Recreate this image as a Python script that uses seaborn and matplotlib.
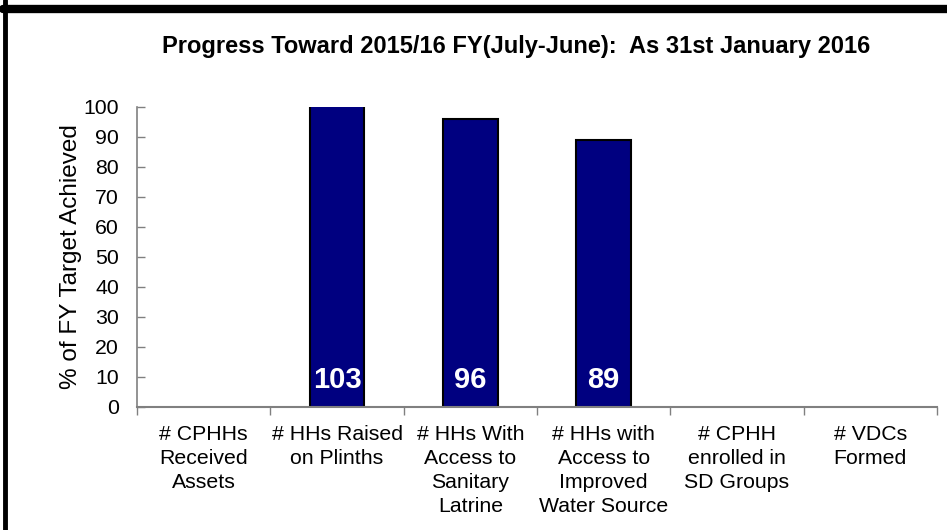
import matplotlib
matplotlib.use("Agg")
import matplotlib.pyplot as plt
from matplotlib.lines import Line2D
import pandas as pd
import seaborn as sns

categories = [
    "# CPHHs\nReceived\nAssets",
    "# HHs Raised\non Plinths",
    "# HHs With\nAccess to\nSanitary\nLatrine",
    "# HHs with\nAccess to\nImproved\nWater Source",
    "# CPHH\nenrolled in\nSD Groups",
    "# VDCs\nFormed",
]
pct_achieved = [0, 103, 96, 89, 0, 0]
yticks = list(range(0, 101, 10))

df = pd.DataFrame({"category": categories, "pct": pct_achieved})

sns.set_theme(style="white", rc={"text.color": "black", "axes.labelcolor": "black",
                                 "xtick.color": "black", "ytick.color": "black"})
plt.rcParams["font.family"] = ["Liberation Sans", "DejaVu Sans"]

W, H = 947, 530
fig = plt.figure(figsize=(W / 100, H / 100), dpi=100)
ax = fig.add_axes([137 / W, 1 - 407 / H, 800 / W, 300 / H])

sns.barplot(data=df, x="category", y="pct", ax=ax, color="#000080",
            saturation=1, width=0.41, edgecolor="black", linewidth=1.5)
# empty categories: no visible bar at all
for p in ax.patches:
    if p.get_height() == 0:
        p.set_visible(False)

ax.set_ylim(0, 100)
ax.set_xlim(-0.5, len(categories) - 0.5)
ax.set_yticks(yticks)
ax.tick_params(axis="y", labelsize=15.3, length=6, width=1, color="#808080",
               labelcolor="black", direction="in", left=True, pad=13)
ax.set_xticks([i - 0.5 for i in range(len(categories) + 1)], minor=True)
ax.set_xticks(range(len(categories)))
ax.set_xticklabels(categories, fontsize=15.3, linespacing=1.33)
ax.tick_params(axis="x", which="major", length=0, pad=13, labelcolor="black")
ax.tick_params(axis="x", which="minor", length=6, width=1, color="#808080",
               direction="out", bottom=True)
ax.set_xlabel("")
ax.set_ylabel("% of FY Target Achieved", fontsize=17.5, labelpad=1, color="black")

for s in ["top", "right"]:
    ax.spines[s].set_visible(False)
ax.spines["left"].set_color("#808080")
ax.spines["bottom"].set_color("#808080")
ax.spines["left"].set_linewidth(1.2)
ax.spines["bottom"].set_linewidth(1.5)

for i, v in enumerate(pct_achieved):
    if v:
        ax.text(i, 9, str(v), ha="center", va="center", color="white",
                fontsize=21, fontweight="bold")

fig.text(516 / W, 1 - 47 / H,
         "Progress Toward 2015/16 FY(July-June):  As 31st January 2016",
         ha="center", va="center", fontsize=17, fontweight="bold", color="black")

# border of the original slide frame
fig.add_artist(Line2D([5 / W, 5 / W], [0, 1], transform=fig.transFigure,
                      color="black", lw=3.5))
fig.add_artist(Line2D([3 / W, 1], [1 - 9 / H, 1 - 9 / H], transform=fig.transFigure,
                      color="black", lw=6))

fig.savefig("out.png", dpi=100)
